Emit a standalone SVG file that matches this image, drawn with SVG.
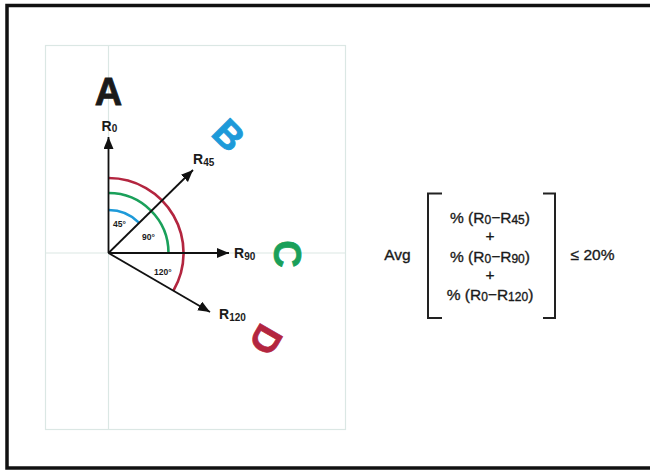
<svg xmlns="http://www.w3.org/2000/svg" width="650" height="470" viewBox="0 0 650 470">
  <defs>
    <marker id="ah" markerUnits="userSpaceOnUse" markerWidth="14" markerHeight="12" refX="12" refY="5" orient="auto">
      <path d="M0,0 L12,5 L0,10 Z" fill="#111"/>
    </marker>
    <style>
      .grid { stroke: #dbe7e4; stroke-width: 1.2; fill: none; }
      .ax { stroke: #111; stroke-width: 1.8; fill: none; marker-end: url(#ah); }
      .lbl { font-family: "Liberation Sans", Arial, sans-serif; font-weight: bold; font-size: 14px; fill: #1a1a1a; }
      .sub { font-size: 10px; }
      .deg { font-family: "Liberation Sans", Arial, sans-serif; font-weight: bold; font-size: 8.5px; fill: #1a1a1a; }
      .big { font-family: "Liberation Sans", Arial, sans-serif; font-weight: bold; font-size: 38px; text-anchor: middle; stroke-width: 0.8; }
      .fx { font-family: "Liberation Sans", Arial, sans-serif; font-size: 15.5px; fill: #1a1a1a; stroke: #1a1a1a; stroke-width: 0.35; text-anchor: middle; }
      .fsub { font-size: 12px; }
      .arc { fill: none; stroke-width: 2.6; }
    </style>
  </defs>
  <rect x="0" y="0" width="650" height="470" fill="#ffffff"/>
  <rect x="7" y="5.5" width="700" height="462.5" fill="none" stroke="#111" stroke-width="3.5"/>

  <g id="grid">
    <rect class="grid" x="45.5" y="45.5" width="300" height="384"/>
    <line class="grid" x1="108.5" y1="45.5" x2="108.5" y2="429.5"/>
    <line class="grid" x1="45.5" y1="253" x2="345.5" y2="253"/>
  </g>

  <g id="arcs">
    <path class="arc" stroke="#1d9ad9" d="M108.5,210 A43,43 0 0 1 138.9,222.6"/>
    <path class="arc" stroke="#1aa05a" d="M108.5,193 A60,60 0 0 1 168.5,253"/>
    <path class="arc" stroke="#b3253f" d="M108.5,178 A75,75 0 0 1 173.5,290.5"/>
  </g>

  <g id="connectors">
    <line class="ax" x1="108.5" y1="253" x2="108.5" y2="137"/>
    <line class="ax" x1="108.5" y1="253" x2="193" y2="170"/>
    <line class="ax" x1="108.5" y1="253" x2="229" y2="253"/>
    <line class="ax" x1="108.5" y1="253" x2="210" y2="312"/>
  </g>

  <g id="degrees">
    <text class="deg" x="113" y="227">45°</text>
    <text class="deg" x="142" y="240">90°</text>
    <text class="deg" x="154" y="275">120°</text>
  </g>

  <g id="nodeA">
    <text class="big" x="108.5" y="104.5" font-size="40" fill="#1a1a1a" stroke="#1a1a1a">A</text>
    <text class="lbl" x="101.5" y="131">R<tspan class="sub" dy="1">0</tspan></text>
  </g>

  <g id="nodeB">
    <text class="lbl" x="193" y="164">R<tspan class="sub" dy="2">45</tspan></text>
    <g transform="translate(229,135) rotate(45)">
      <text class="big" x="0" y="13.5" fill="#1d9ad9" stroke="#1d9ad9">B</text>
    </g>
  </g>

  <g id="nodeC">
    <text class="lbl" x="234" y="258">R<tspan class="sub" dy="2">90</tspan></text>
    <g transform="translate(287,254) rotate(90)">
      <text class="big" x="0" y="13.5" fill="#1aa05a" stroke="#1aa05a">C</text>
    </g>
  </g>

  <g id="nodeD">
    <text class="lbl" x="219" y="319">R<tspan class="sub" dy="2">120</tspan></text>
    <g transform="translate(266,340) rotate(120)">
      <text class="big" x="0" y="13.5" fill="#b3253f" stroke="#b3253f">D</text>
    </g>
  </g>

  <g id="formula">
    <text class="fx" x="397.5" y="259.5" font-size="17">Avg</text>
    <path d="M442,193.5 H428 V318 H442" fill="none" stroke="#222" stroke-width="2"/>
    <path d="M543,193.5 H555 V318 H543" fill="none" stroke="#222" stroke-width="2"/>
    <text class="fx" x="490" y="223">% (R<tspan class="fsub" dy="1">0</tspan><tspan dy="-1">−R</tspan><tspan class="fsub" dy="1">45</tspan><tspan dy="-1">)</tspan></text>
    <text class="fx" x="490" y="241">+</text>
    <text class="fx" x="490" y="261.5">% (R<tspan class="fsub" dy="1">0</tspan><tspan dy="-1">−R</tspan><tspan class="fsub" dy="1">90</tspan><tspan dy="-1">)</tspan></text>
    <text class="fx" x="490" y="280">+</text>
    <text class="fx" x="490" y="300">% (R<tspan class="fsub" dy="1">0</tspan><tspan dy="-1">−R</tspan><tspan class="fsub" dy="1">120</tspan><tspan dy="-1">)</tspan></text>
    <text class="fx" x="592.5" y="260" font-size="16.5">≤ 20%</text>
  </g>
</svg>
